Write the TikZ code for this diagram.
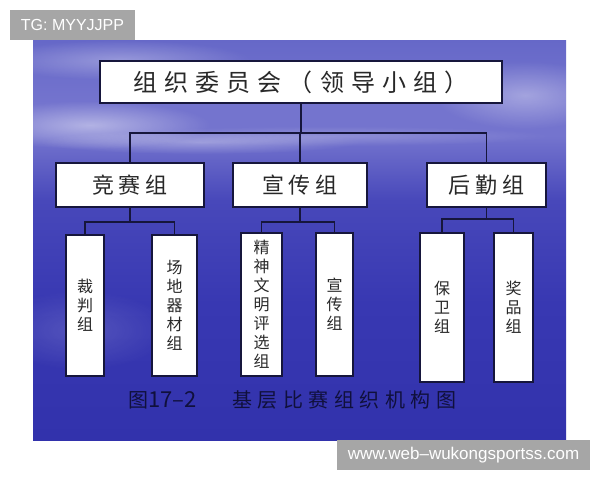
\documentclass[tikz,border=0pt]{standalone}
\usepackage{fontspec}
\setmainfont{Liberation Sans}
\newfontfamily\cjk{Noto Sans CJK SC}
\usetikzlibrary{fadings}
\tikzfading[name=softblob, inner color=transparent!0, outer color=transparent!100]
\definecolor{linecol}{RGB}{22,22,60}
\definecolor{txtcol}{RGB}{40,40,40}
\definecolor{capcol}{RGB}{16,16,60}
\definecolor{labgrey}{RGB}{166,166,166}
\definecolor{skybot}{RGB}{50,50,172}
\definecolor{skymid}{RGB}{56,56,178}
\definecolor{skyhor}{RGB}{72,72,186}
\definecolor{skylight}{RGB}{116,116,206}
\definecolor{skytop}{RGB}{102,104,200}
\pgfdeclareverticalshading{sky}{100bp}{color(0bp)=(skybot); color(25bp)=(skybot); color(42bp)=(skymid); color(55bp)=(skyhor); color(63bp)=(skylight); color(67bp)=(skylight); color(75bp)=(skytop); color(100bp)=(skytop)}
\newdimen\cjkgap
\def\spaceit#1{\spaceitaux#1\relax}
\def\spaceitaux#1{\ifx\relax#1\unskip\else#1\hskip\cjkgap\expandafter\spaceitaux\fi}
\tikzset{
  box/.style={draw=linecol, line width=1.8pt, fill=white, text=txtcol, inner sep=0pt, font=\cjk},
  topbox/.style={box, minimum width=402pt, minimum height=42pt, font=\cjk\fontsize{24}{24}\selectfont},
  midbox/.style={box, minimum height=44pt, font=\cjk\fontsize{22}{22}\selectfont},
  leaf/.style={box, align=center, font=\cjk\fontsize{16}{19}\selectfont},
  conn/.style={draw=linecol, line width=1.8pt},
  lab/.style={fill=labgrey, text=white, inner sep=0pt, font=\fontsize{16}{16}\selectfont},
  captext/.style={text=capcol, inner sep=0pt, anchor=west, font=\cjk\fontsize{20}{20}\selectfont},
  cloud/.style={fill=white, path fading=softblob}
}
\begin{document}
\begin{tikzpicture}[x=1pt,y=-1pt]
\useasboundingbox (0,0) rectangle (600,480);
\fill[white] (0,0) rectangle (600,480);
% background
\shade[shading=sky] (33,40) rectangle (566,440);
\begin{scope}
\clip (33,40) rectangle (566,440);
\fill[cloud, opacity=0.45] (90,125) ellipse (120 and 24);
\fill[cloud, opacity=0.3] (200,142) ellipse (160 and 12);
\fill[cloud, opacity=0.35] (525,95) ellipse (90 and 34);
\fill[cloud, opacity=0.3] (120,60) ellipse (130 and 20);
\fill[cloud, opacity=0.2] (330,136) ellipse (220 and 10);
\fill[cloud, opacity=0.15] (80,330) ellipse (90 and 40);
\end{scope}
% labels
\node[lab, minimum width=125pt, minimum height=30pt] (tg) at (72.5,25) {TG: MYYJJPP};
\node[lab, minimum width=253pt, minimum height=30pt] (www) at (463.5,455) {\fontsize{17}{17}\selectfont www.web–wukongsportss.com};
% top
\node[topbox] (top) at (301,82) {\cjkgap=7.2pt\spaceit{组织委员会（领导小组）}};
% level 2
\node[midbox, minimum width=148pt] (l2a) at (130,185) {\cjkgap=5pt\spaceit{竞赛组}};
\node[midbox, minimum width=134pt] (l2b) at (300,185) {\cjkgap=5pt\spaceit{宣传组}};
\node[midbox, minimum width=119pt] (l2c) at (486.5,185) {\cjkgap=5pt\spaceit{后勤组}};
% leaves
\node[leaf, minimum width=38pt, minimum height=141pt] (c1) at (85,305.5) {裁\\判\\组};
\node[leaf, minimum width=45pt, minimum height=141pt] (c2) at (174.5,305.5) {场\\地\\器\\材\\组};
\node[leaf, minimum width=41pt, minimum height=143pt] (c3) at (261.5,304.5) {精\\神\\文\\明\\评\\选\\组};
\node[leaf, minimum width=37pt, minimum height=143pt] (c4) at (334.5,304.5) {宣\\传\\组};
\node[leaf, minimum width=44pt, minimum height=149pt] (c5) at (442,307.5) {保\\卫\\组};
\node[leaf, minimum width=39pt, minimum height=149pt] (c6) at (513.5,307.5) {奖\\品\\组};
% buses
\coordinate (bus0) at (0,133);
\coordinate (busA) at (0,222);
\coordinate (busC) at (0,219);
\draw[conn] (top.south) -- (top.south |- bus0);
\draw[conn] (l2a.north) -- (l2a.north |- bus0) -- (l2c.north |- bus0) -- (l2c.north);
\draw[conn] (l2b.north) -- (l2b.north |- bus0);
\draw[conn] (l2a.south) -- (l2a.south |- busA);
\draw[conn] (c1.north) -- (c1.north |- busA) -- (c2.north |- busA) -- (c2.north);
\draw[conn] (l2b.south) -- (l2b.south |- busA);
\draw[conn] (c3.north) -- (c3.north |- busA) -- (c4.north |- busA) -- (c4.north);
\draw[conn] (l2c.south) -- (l2c.south |- busC);
\draw[conn] (c5.north) -- (c5.north |- busC) -- (c6.north |- busC) -- (c6.north);
% caption
\node[captext] (cap1) at (128,400) {图{\fontsize{22}{22}\selectfont 17–2}};
\node[captext] (cap2) at (232,400) {\cjkgap=5.5pt\spaceit{基层比赛组织机构图}};
\end{tikzpicture}
\end{document}
